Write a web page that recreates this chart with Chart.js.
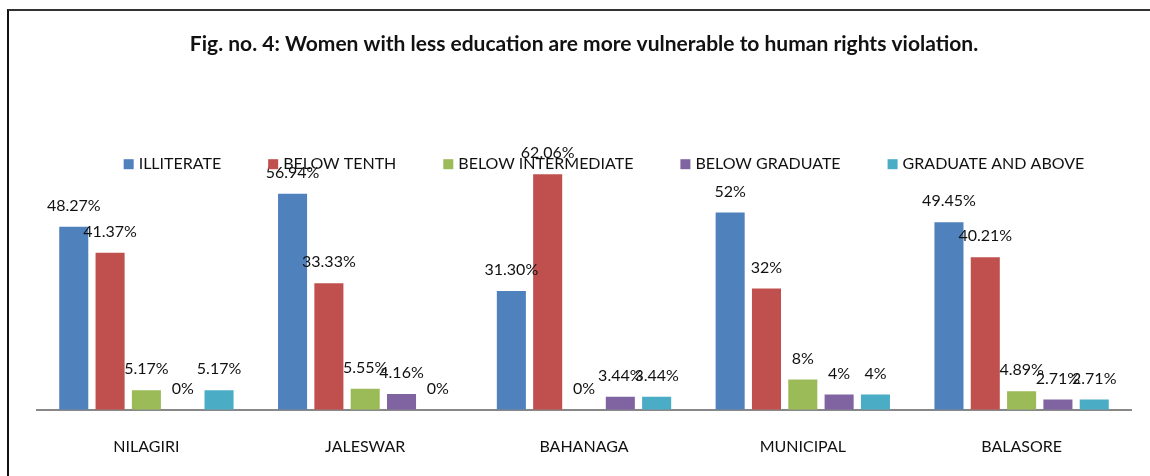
<!DOCTYPE html>
<html>
<head>
<meta charset="utf-8">
<script src="https://cdn.jsdelivr.net/npm/chart.js@4/dist/chart.umd.min.js"></script>
<style>
  html, body { margin: 0; padding: 0; background: #fff; overflow: hidden; }
  #wrap { position: absolute; left: 0; top: 0; width: 1150px; height: 483px; }
  #frame { position: absolute; left: 7px; top: 9px; width: 1160px; height: 480px;
           border-left: 2px solid #111; border-top: 2px solid #333; pointer-events: none; }
</style>
</head>
<body>
<div id="wrap"><canvas id="chart"></canvas></div>
<div id="frame"></div>
<script>
// Chart data
const districts = ["NILAGIRI", "JALESWAR", "BAHANAGA", "MUNICIPAL", "BALASORE"];
const illiterate = [48.27, 56.94, 31.30, 52, 49.45];
const belowTenth = [41.37, 33.33, 62.06, 32, 40.21];
const belowIntermediate = [5.17, 5.55, 0, 8, 4.89];
const belowGraduate = [0, 4.16, 3.44, 4, 2.71];
const graduateAbove = [5.17, 0, 3.44, 4, 2.71];

const fontFamily = "Lato, 'Open Sans', sans-serif";

// format numbers like the excel labels
function pct(v) {
  return Number.isInteger(v) ? v + "%" : v.toFixed(2) + "%";
}

// draws the value above each bar
const valueLabels = {
  id: "valueLabels",
  afterDatasetsDraw(chart) {
    const ctx = chart.ctx;
    ctx.save();
    ctx.font = "16px " + fontFamily;
    ctx.fillStyle = "#111";
    ctx.textAlign = "center";
    ctx.textBaseline = "middle";
    chart.data.datasets.forEach((ds, i) => {
      chart.getDatasetMeta(i).data.forEach((bar, j) => {
        ctx.fillText(pct(ds.data[j]), bar.x, bar.y - 21);
      });
    });
    ctx.restore();
  }
};

// legend sitting inside the plot, like the excel one
const insideLegend = {
  id: "insideLegend",
  afterDraw(chart) {
    const ctx = chart.ctx;
    const area = chart.chartArea;
    const box = 10, gap = 5, spacing = 47;
    ctx.save();
    ctx.font = "16px " + fontFamily;
    const widths = chart.data.datasets.map(ds => box + gap + ctx.measureText(ds.label).width);
    const total = widths.reduce((a, b) => a + b, 0) + spacing * (widths.length - 1);
    let x = (area.left + area.right) / 2 + 20 - total / 2;
    const y = area.top + 20;
    ctx.textBaseline = "middle";
    ctx.textAlign = "left";
    chart.data.datasets.forEach((ds, i) => {
      ctx.fillStyle = ds.backgroundColor;
      ctx.fillRect(x, y - box / 2, box, box);
      ctx.fillStyle = "#111";
      ctx.fillText(ds.label, x + box + gap, y);
      x += widths[i] + spacing;
    });
    ctx.restore();
  }
};

const ctx = document.getElementById("chart").getContext("2d");
new Chart(ctx, {
  type: "bar",
  data: {
    labels: districts,
    datasets: [
      { label: "ILLITERATE", data: illiterate, backgroundColor: "#4F81BD" },
      { label: "BELOW TENTH", data: belowTenth, backgroundColor: "#C0504D" },
      { label: "BELOW INTERMEDIATE", data: belowIntermediate, backgroundColor: "#9BBB59" },
      { label: "BELOW GRADUATE", data: belowGraduate, backgroundColor: "#8064A2" },
      { label: "GRADUATE AND ABOVE", data: graduateAbove, backgroundColor: "#4BACC6" }
    ]
  },
  options: {
    responsive: true,
    maintainAspectRatio: false,
    animation: false,
    layout: { padding: { left: 37, right: 19, top: 0, bottom: 0 } },
    datasets: {
      bar: { categoryPercentage: 0.83, barPercentage: 0.8 }
    },
    plugins: {
      title: {
        display: true,
        text: "Fig. no. 4: Women with less education are more vulnerable to human rights violation.",
        color: "#111",
        font: { family: fontFamily, size: 21, weight: "bold" },
        padding: { top: 32, bottom: 87 }
      },
      legend: { display: false },
      tooltip: { enabled: false }
    },
    scales: {
      x: {
        grid: { display: false, drawTicks: false },
        border: { display: true, color: "#888", width: 2 },
        ticks: { color: "#111", padding: 27, font: { family: fontFamily, size: 16 } }
      },
      y: {
        display: false,
        min: 0,
        max: 70
      }
    }
  },
  plugins: [valueLabels, insideLegend]
});
</script>
</body>
</html>
